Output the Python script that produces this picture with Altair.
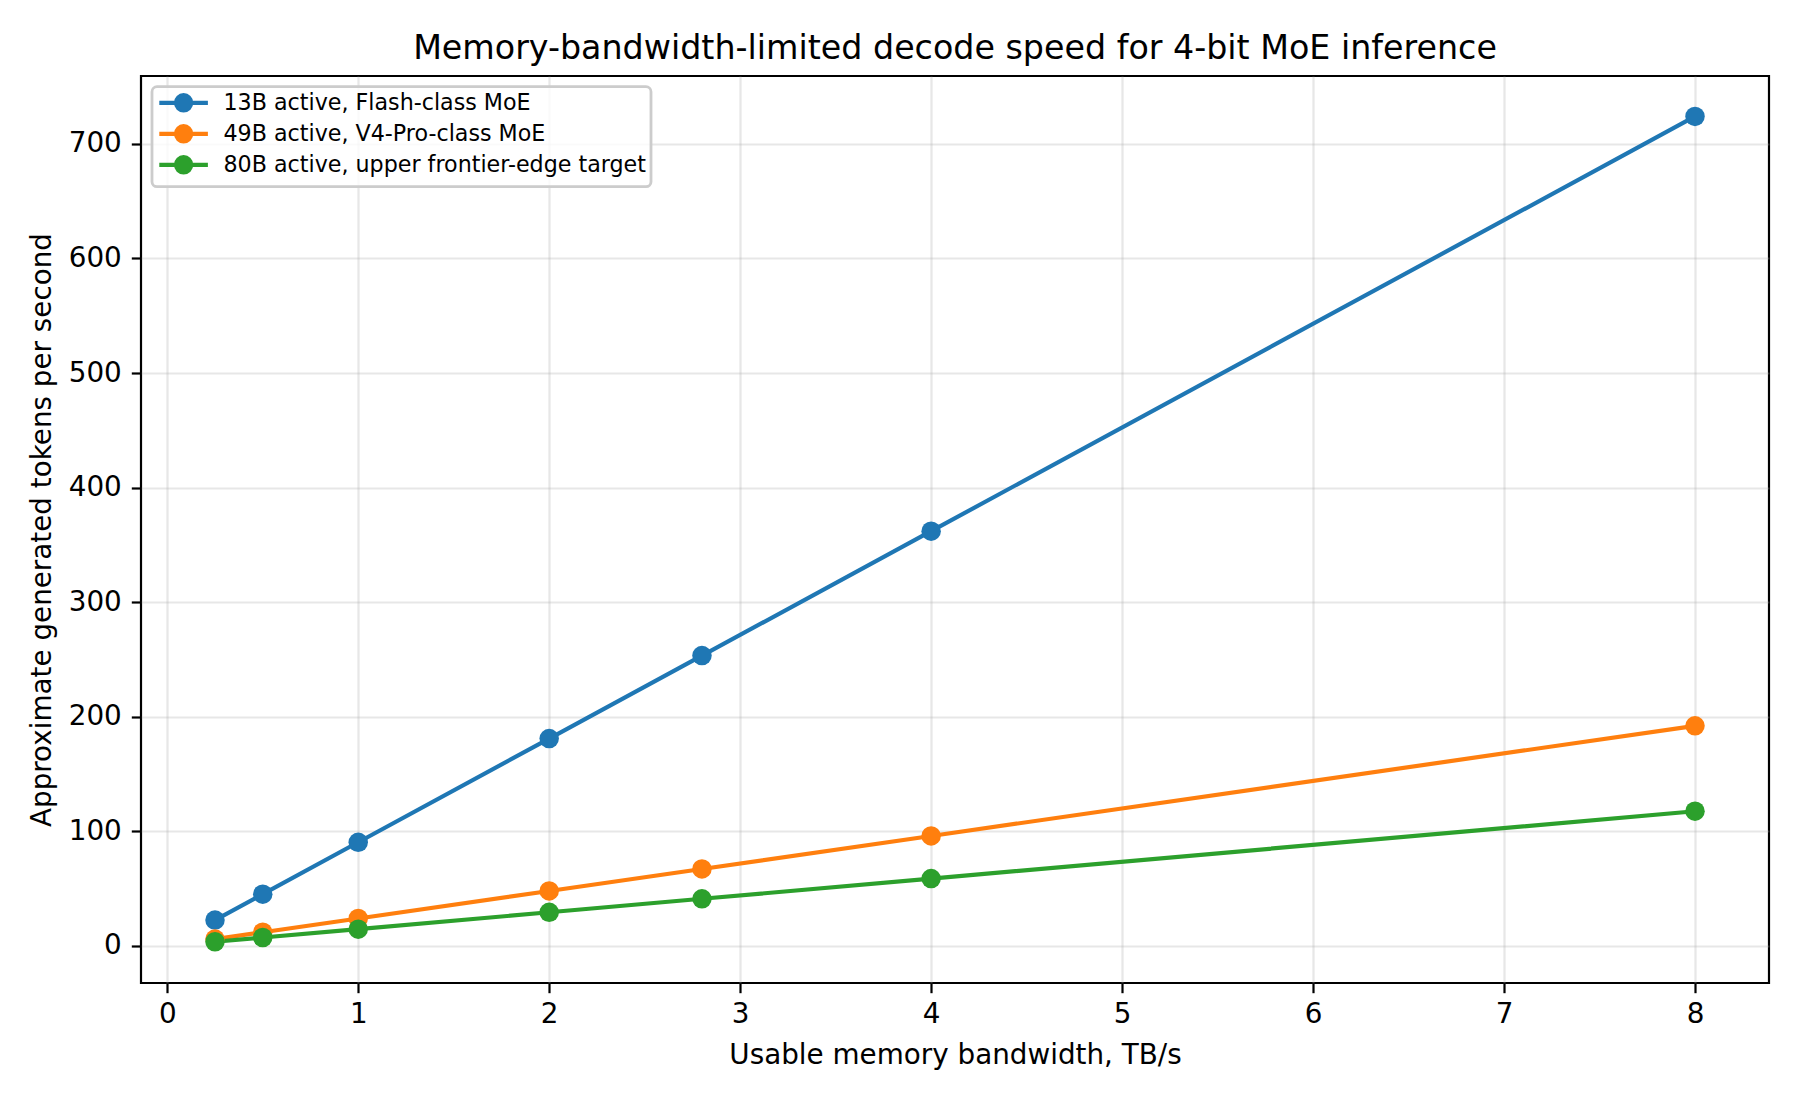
import altair as alt
import pandas as pd

# ---- data ----
bandwidth_tbs = [0.25, 0.5, 1, 2, 2.8, 4, 8]
series_names = [
    "13B active, Flash-class MoE",
    "49B active, V4-Pro-class MoE",
    "80B active, upper frontier-edge target",
]
tps_13b = [22.6, 45.2, 90.5, 181.0, 253.4, 362.0, 723.9]
tps_49b = [6.0, 12.0, 24.0, 48.0, 67.2, 96.0, 192.1]
tps_80b = [3.7, 7.4, 14.7, 29.4, 41.2, 58.8, 117.6]
series_colors = ["#1f77b4", "#ff7f0e", "#2ca02c"]
x_ticks = [0, 1, 2, 3, 4, 5, 6, 7, 8]
y_ticks = [0, 100, 200, 300, 400, 500, 600, 700]

rows = []
for order, (name, vals) in enumerate(zip(series_names, [tps_13b, tps_49b, tps_80b])):
    for bw, v in zip(bandwidth_tbs, vals):
        rows.append({"series": name, "order": order, "bandwidth": bw, "tps": v})
df = pd.DataFrame(rows)

FONT = "DejaVu Sans"

x_enc = alt.X(
    "bandwidth:Q",
    scale=alt.Scale(domain=[-0.1375, 8.3875], nice=False, zero=False),
    axis=alt.Axis(
        values=x_ticks,
        format="d",
        title="Usable memory bandwidth, TB/s",
        titleFontSize=27.8,
        titleFontWeight="normal",
        titleColor="black",
        titleBaseline="alphabetic",
        titleY=80.3,
        labelFontSize=27.8,
        labelColor="black",
        labelPadding=8,
        tickSize=9.7,
        tickWidth=2.2,
        tickColor="black",
        domain=False,
        grid=True,
        gridColor="#b0b0b0",
        gridOpacity=0.3,
        gridWidth=2.2,
    ),
)
y_enc = alt.Y(
    "tps:Q",
    scale=alt.Scale(domain=[-32.3, 759.2], nice=False, zero=False),
    axis=alt.Axis(
        values=y_ticks,
        format="d",
        title="Approximate generated tokens per second",
        titleFontSize=27.8,
        titleFontWeight="normal",
        titleColor="black",
        titleAngle=270,
        titleBaseline="alphabetic",
        titleX=-90.5,
        labelFontSize=27.8,
        labelColor="black",
        labelPadding=10,
        tickSize=9.7,
        tickWidth=2.2,
        tickColor="black",
        domain=False,
        grid=True,
        gridColor="#b0b0b0",
        gridOpacity=0.3,
        gridWidth=2.2,
    ),
)
color_scale = alt.Scale(domain=series_names, range=series_colors)


def ring(r):
    return f"M{-r},0A{r},{r},0,1,1,{r},0A{r},{r},0,1,1,{-r},0"


# legend handle: line segment plus a disc built from overlapping stroked rings
# (path units: 1 unit = 8.5 px with symbolSize 289)
legend_symbol = "M-2.859,0L2.859,0" + ring(0.894) + ring(0.471) + ring(0.141)

legend = alt.Legend(
    title=None,
    orient="none",
    legendX=11,
    legendY=10.7,
    symbolType=legend_symbol,
    symbolSize=289,
    symbolStrokeWidth=4.17,
    symbolOpacity=1,
    symbolOffset=15.5,
    labelFontSize=22.2,
    labelColor="black",
    labelOffset=28.8,
    labelLimit=1000,
    rowPadding=-2,
    padding=5,
    fillColor="rgba(255,255,255,0.8)",
    strokeColor="#cccccc",
    cornerRadius=5,
)

lines = alt.Chart(df).mark_line(strokeWidth=4.17, strokeJoin="round").encode(
    x=x_enc,
    y=y_enc,
    color=alt.Color("series:N", scale=color_scale, legend=legend),
    order=alt.Order("bandwidth:Q"),
)

points = alt.Chart(df).mark_point(filled=True, size=380, opacity=1).encode(
    x=x_enc,
    y=y_enc,
    color=alt.Color("series:N", scale=color_scale, legend=legend),
)

chart = (
    alt.layer(lines, points)
    .properties(
        width=1628,
        height=907,
        title=alt.TitleParams(
            "Memory-bandwidth-limited decode speed for 4-bit MoE inference",
            fontSize=33.3,
            fontWeight="normal",
            color="black",
            anchor="middle",
            baseline="alphabetic",
            offset=19,
            dy=35,
            frame="group",
            font=FONT,
        ),
        autosize=alt.AutoSizeParams(type="none"),
        padding={"left": 141, "top": 76, "right": 31, "bottom": 117},
    )
    .configure(font=FONT, background="white")
    .configure_view(stroke="black", strokeWidth=2.2)
    .configure_legend(strokeWidth=2.8)
)

chart.save("out.html", embed_options={"renderer": "svg", "actions": False})
